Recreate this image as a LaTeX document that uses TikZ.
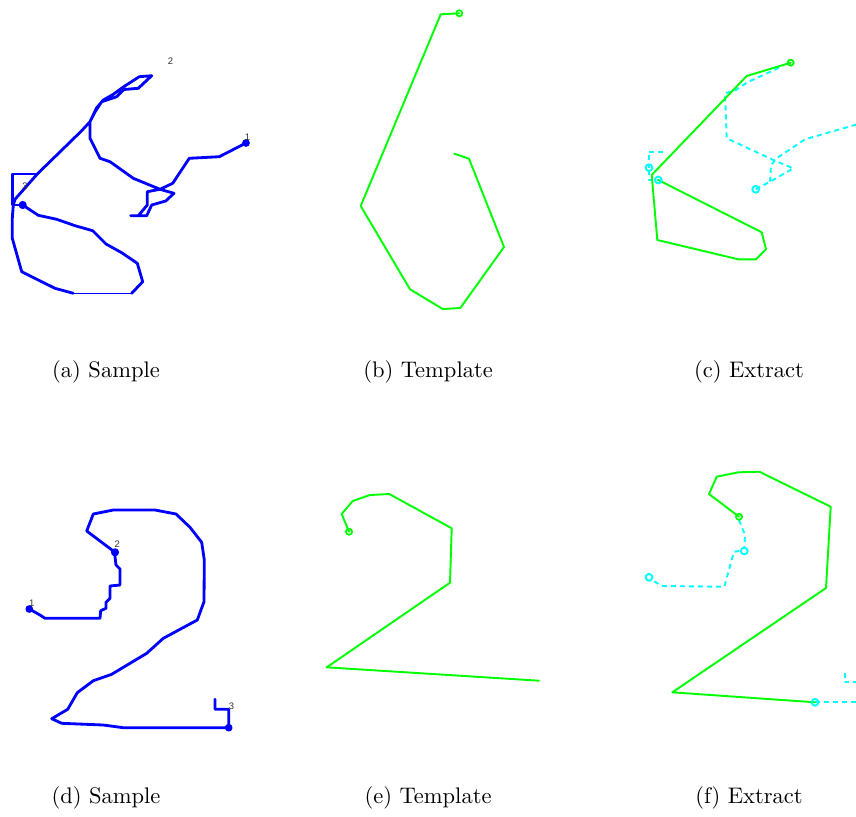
\documentclass[tikz,border=0pt]{standalone}
\usepackage{fontspec}
\newfontfamily\lblfont{Liberation Sans}
\begin{document}
\begin{tikzpicture}[x=0.444pt,y=-0.444pt,line join=round,line cap=round,
  sample/.style={draw={rgb,255:red,0;green,0;blue,255},line width=1.25pt},
  sampledot/.style={draw={rgb,255:red,0;green,0;blue,255},fill={rgb,255:red,0;green,0;blue,255},line width=0.6pt},
  tmpl/.style={draw={rgb,255:red,0;green,255;blue,0},line width=0.85pt},
  tmpldot/.style={draw={rgb,255:red,0;green,255;blue,0},line width=0.8pt},
  extr/.style={draw={rgb,255:red,0;green,255;blue,255},line width=0.85pt,dash pattern=on 2.2pt off 1.8pt,line cap=butt},
  extrdot/.style={draw={rgb,255:red,0;green,255;blue,255},line width=0.85pt},
  idx/.style={font=\lblfont\fontsize{4.2}{5}\selectfont,text=black!80,inner sep=0pt},
  captext/.style={font=\fontsize{10}{12}\selectfont,inner sep=0pt}]
\useasboundingbox (0,0) rectangle (856,816);
\begin{scope}
\clip (0,0) rectangle (856,816);
% ---------------- (a) Sample
\draw[sample] (246,143) -- (219.3,156.7) -- (189.3,158.3) -- (172.7,183.3) -- (160,189.3) -- (147.3,191.7) -- (147.3,205) -- (138.3,215.7) -- (130.7,215.7) -- (146.7,215.7) -- (151.7,205) -- (165.7,201) -- (174,193.3) -- (160,189.3) -- (133.3,178.3) -- (110,161.7) -- (100,158.3) -- (90,138.3) -- (90,121.7) -- (95,112) -- (101.7,101.7) -- (116.7,96.7) -- (124,89.5) -- (138.3,88.3) -- (151.7,75.7) -- (139.3,76.7) -- (123.3,87) -- (113,94.5) -- (103.3,100) -- (96.5,108) -- (90,121.7) -- (81.7,130.7) -- (37.3,174) -- (15,199.3) -- (13.3,205) -- (12.3,218.3) -- (12.3,238.3) -- (21.7,271.7) -- (38.3,280) -- (55,288.3) -- (73.3,293.3);
\draw[sample,line width=0.7pt] (73.3,293.6) -- (131.7,293.6);
\draw[sample] (131.7,293.3) -- (142.7,281.7) -- (137.3,263.3) -- (121.7,252.7) -- (106,244) -- (92.7,230.7) -- (75,225.7) -- (56.7,219.3) -- (38.3,215.3) -- (22.7,205);
\draw[sample] (37.3,174) -- (12.3,174) -- (12.3,205) -- (22.7,205);
\draw[sampledot] (246,143) circle[radius=1.4pt];
\draw[sampledot] (22.7,205) circle[radius=1.5pt];
\node[idx] (a1) at (247.5,137) {1};
\node[idx] (a2) at (170.5,61.5) {2};
\node[idx] (a3) at (25,186.5) {3};
% ---------------- (b) Template
\draw[tmpl] (459.3,13.3) -- (440.7,14.3) -- (360.7,206) -- (410,289.3) -- (442.7,309) -- (460.3,308) -- (504,247) -- (469,158.7) -- (454.3,153.7);
\draw[tmpldot] (459.3,13.3) circle[radius=1.35pt];
% ---------------- (c) Extract
\draw[extr] (663.3,151.7) -- (649,151.7) -- (649,167.7);
\draw[extr] (649,170) -- (649,180) -- (658.3,180);
\draw[extr] (755.7,189.3) -- (770,181.7) -- (793.3,168.3) -- (773.3,160) -- (726.7,138.3) -- (725,93.3) -- (735,90.5) -- (748,82) -- (783,66);
\draw[extr] (770,181.7) -- (771,165) -- (777,158) -- (805,139.3) -- (860,123.5);
\draw[tmpl] (790.7,62.7) -- (746.7,76) -- (651.7,175) -- (657.3,240) -- (738.3,259.3) -- (756,259.3) -- (766,249.3) -- (761.7,232.3) -- (658.3,180);
\draw[tmpldot] (790.7,62.7) circle[radius=1.35pt];
\draw[extrdot] (649,167.7) circle[radius=1.5pt];
\draw[extrdot] (658.3,180) circle[radius=1.5pt];
\draw[extrdot] (755.7,189.3) circle[radius=1.5pt];
% ---------------- (d) Sample
\draw[sample] (29.3,609) -- (40,615) -- (45,618.3) -- (100,618.3) -- (100.7,610.7) -- (106,608.3) -- (106,602.3) -- (110,598.3) -- (110,586) -- (120,585) -- (120,569) -- (116,565) -- (115,556.7) -- (115,552.3) -- (86.7,531) -- (93.3,514) -- (113.3,510) -- (155,510) -- (176,514) -- (190,527.3) -- (201.7,542.3) -- (204.3,560) -- (204,601.7) -- (197.3,620) -- (163.3,638.3) -- (146.7,653.3) -- (111.7,674.3) -- (93.3,680.7) -- (77.3,692.7) -- (67.7,709.3) -- (51.7,718.7) -- (61.7,723.3) -- (103.3,725) -- (123.3,727.7) -- (228.7,727.7) -- (228.7,709.3) -- (215,709.3) -- (215,699.3);
\draw[sampledot] (29.3,609) circle[radius=1.4pt];
\draw[sampledot] (115,552.3) circle[radius=1.5pt];
\draw[sampledot] (228.7,727.7) circle[radius=1.4pt];
\node[idx] (d1) at (31.7,603.5) {1};
\node[idx] (d2) at (117.3,544.5) {2};
\node[idx] (d3) at (231.5,706.5) {3};
% ---------------- (e) Template
\draw[tmpl] (349,531.7) -- (341.7,514) -- (352.7,501) -- (370,495) -- (389.3,494) -- (451.7,528.3) -- (450,582.7) -- (326.7,667.3) -- (539,680.7);
\draw[tmpldot] (349,531.7) circle[radius=1.35pt];
% ---------------- (f) Extract
\draw[extr] (739,520) -- (745,535) -- (744.3,547.5);
\draw[extr] (739.3,551) -- (734,551.7) -- (724.3,586.7) -- (661.7,586) -- (653.3,580.7);
\draw[extr] (815,702.3) -- (860,702.3);
\draw[extr] (845,672.7) -- (845,682.3) -- (860,682.3);
\draw[tmpl] (739,516.7) -- (709,494) -- (716.7,476.7) -- (738.3,472.3) -- (759.3,471.7) -- (830.7,506.7) -- (826,588) -- (672.3,692.3) -- (815,702.3);
\draw[tmpldot] (739,516.7) circle[radius=1.35pt];
\draw[extrdot] (744.3,551) circle[radius=1.5pt];
\draw[extrdot] (649,577.3) circle[radius=1.5pt];
\draw[extrdot] (815,702.3) circle[radius=1.5pt];
\end{scope}
% ---------------- captions
\node[captext] (ca) at (106,372) {(a) Sample};
\node[captext] (cb) at (428,372) {(b) Template};
\node[captext] (cc) at (749,372) {(c) Extract};
\node[captext] (cd) at (106,798) {(d) Sample};
\node[captext] (ce) at (428,798) {(e) Template};
\node[captext] (cf) at (749,798) {(f) Extract};
\end{tikzpicture}
\end{document}
